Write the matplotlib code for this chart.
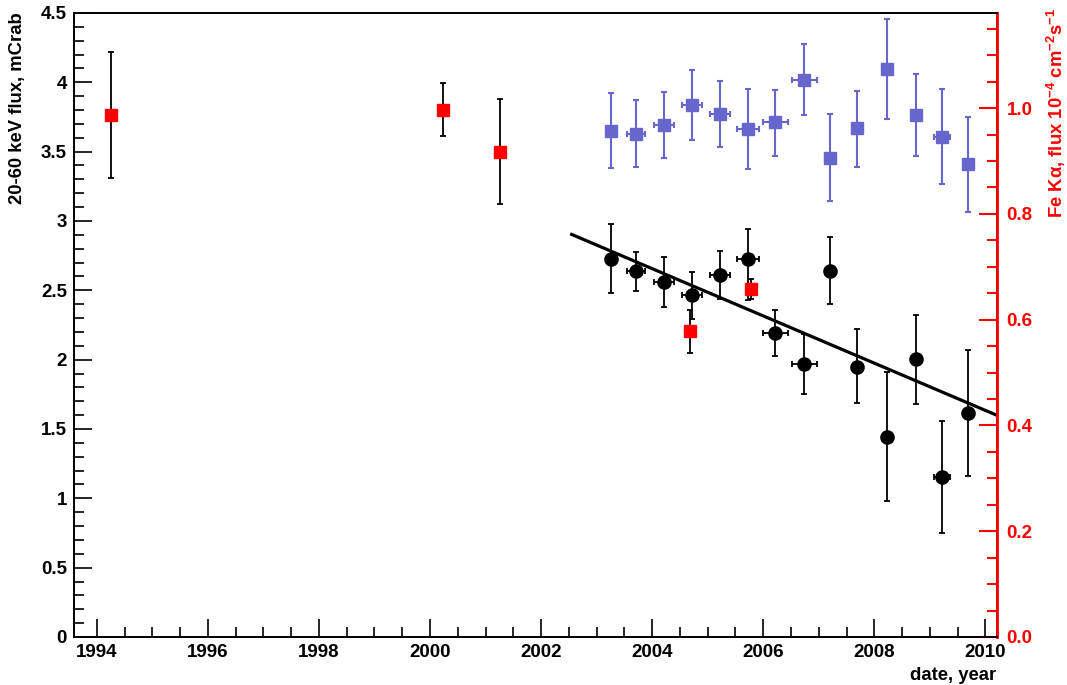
import matplotlib
matplotlib.use('Agg')
import matplotlib.pyplot as plt
from matplotlib.ticker import MultipleLocator, FuncFormatter

plt.rcParams['font.family'] = ['Liberation Sans', 'DejaVu Sans']
plt.rcParams['font.weight'] = 'bold'
plt.rcParams['mathtext.fontset'] = 'custom'
plt.rcParams['mathtext.rm'] = 'Liberation Sans:bold'
plt.rcParams['mathtext.it'] = 'Liberation Sans:bold'
plt.rcParams['mathtext.bf'] = 'Liberation Sans:bold'

# 20-60 keV flux, black points (mCrab)
years = [2003.26, 2003.71, 2004.22, 2004.72, 2005.23, 2005.73, 2006.22,
         2006.74, 2007.21, 2007.69, 2008.23, 2008.76, 2009.22, 2009.69]
years_err = [0, 0.17, 0.18, 0.18, 0.18, 0.2, 0.22, 0.22, 0.1, 0, 0, 0, 0.14, 0]
flux = [2.727, 2.64, 2.561, 2.465, 2.607, 2.723, 2.19, 1.965, 2.638, 1.95,
        1.443, 2.003, 1.157, 1.614]
flux_hi = [2.975, 2.778, 2.742, 2.633, 2.78, 2.94, 2.355, 2.184, 2.881, 2.22,
           1.912, 2.325, 1.561, 2.07]
flux_lo = [2.48, 2.494, 2.379, 2.292, 2.436, 2.43, 2.028, 1.753, 2.398, 1.686,
           0.981, 1.683, 0.753, 1.162]

# other measurements, red squares (mCrab)
red_years = [1994.25, 2000.24, 2001.26, 2004.68, 2005.78]
red_flux = [3.764, 3.80, 3.50, 2.208, 2.51]
red_hi = [4.22, 3.995, 3.88, 2.355, 2.58]
red_lo = [3.31, 3.615, 3.12, 2.05, 2.435]

# Fe K alpha line flux, blue squares (1e-4 ph/cm2/s)
fe_flux = [0.957, 0.951, 0.968, 1.006, 0.989, 0.960, 0.973, 1.054, 0.906,
           0.962, 1.074, 0.987, 0.946, 0.894]
fe_hi = [1.028, 1.015, 1.031, 1.0725, 1.052, 1.037, 1.035, 1.121, 0.989,
         1.033, 1.168, 1.065, 1.036, 0.984]
fe_lo = [0.886, 0.888, 0.905, 0.940, 0.927, 0.884, 0.910, 0.987, 0.824,
         0.888, 0.980, 0.909, 0.857, 0.804]

# linear fit
fit_years = [2002.55, 2010.2]
fit_flux = [2.903, 1.600]

blue = '#6666cc'
red = '#ff0000'
W, H = 1067, 685

fig = plt.figure(figsize=(10.67, 6.85), dpi=100)
ax = fig.add_axes([0.0694, 0.0701, 0.865, 0.911])
ax2 = ax.twinx()

def asym(v, hi, lo):
    return [[a - b for a, b in zip(v, lo)], [b - a for a, b in zip(v, hi)]]

ax.plot(fit_years, fit_flux, color='black', lw=2.3, zorder=2)
ax.errorbar(years, flux, yerr=asym(flux, flux_hi, flux_lo), xerr=years_err,
            fmt='o', color='black', ms=9.5, elinewidth=1.3, capsize=2.3,
            capthick=1.3, zorder=3)
ax.errorbar(red_years, red_flux, yerr=asym(red_flux, red_hi, red_lo),
            fmt='s', mfc=red, mec=red, ecolor='black', ms=8.5,
            elinewidth=1.3, capsize=2.3, capthick=1.3, zorder=4)
ax2.errorbar(years, fe_flux, yerr=asym(fe_flux, fe_hi, fe_lo), xerr=years_err,
             fmt='s', color=blue, ms=8.5, elinewidth=1.5, capsize=2.3,
             capthick=1.5, zorder=3)

ax.set_xlim(1993.59, 2010.21)
ax.set_ylim(0, 4.5)
ax2.set_ylim(0, 1.18)

ax.xaxis.set_major_locator(MultipleLocator(2))
ax.xaxis.set_minor_locator(MultipleLocator(0.5))
ax.yaxis.set_major_locator(MultipleLocator(0.5))
ax.yaxis.set_minor_locator(MultipleLocator(0.1))
ax.yaxis.set_major_formatter(FuncFormatter(lambda v, p: '%g' % v))
ax2.yaxis.set_major_locator(MultipleLocator(0.2))
ax2.yaxis.set_minor_locator(MultipleLocator(0.05))
ax2.yaxis.set_major_formatter(FuncFormatter(lambda v, p: '%.1f' % v))

ax.tick_params(axis='both', which='major', direction='in', length=13, width=1.2,
               labelsize=13.5, top=False, right=False)
ax.tick_params(axis='both', which='minor', direction='in', length=7, width=1.2,
               top=False, right=False)
ax.tick_params(axis='x', pad=5)
ax.tick_params(axis='y', pad=5)
ax2.tick_params(axis='y', which='major', direction='in', length=13, width=1.5,
                color=red, labelcolor=red, labelsize=13.5, pad=7)
ax2.tick_params(axis='y', which='minor', direction='in', length=7, width=1.5,
                color=red)

for s in ax.spines.values():
    s.set_linewidth(1.3)
for name, s in ax2.spines.items():
    s.set_linewidth(1.3)
ax2.spines['right'].set_color(red)
ax2.spines['right'].set_linewidth(2)

fig.text(18 / W, 1 - 12 / H, '20-60 keV flux, mCrab', rotation=90,
         ha='center', va='top', fontsize=13.3, fontweight='bold')
fig.text(1056 / W, 1 - 8 / H,
         r'Fe K$\alpha$, flux 10$^{-4}$ cm$^{-2}$s$^{-1}$', rotation=90,
         ha='center', va='top', fontsize=13.3, fontweight='bold', color=red)
fig.text(996 / W, 1 - 676 / H, 'date, year', ha='right', va='center',
         fontsize=13.3, fontweight='bold')

fig.savefig('out.png', dpi=100)
